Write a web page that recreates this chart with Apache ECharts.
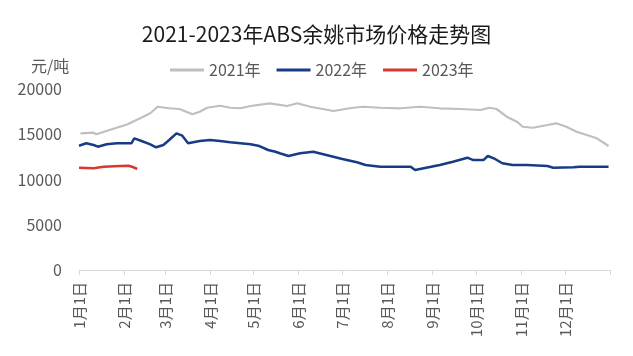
<!DOCTYPE html>
<html>
<head>
<meta charset="utf-8">
<script src="https://cdn.jsdelivr.net/npm/echarts@6/dist/echarts.min.js"></script>
<style>html,body{margin:0;padding:0;background:#fff;}#c{width:633px;height:356px;}</style>
</head>
<body>
<div id="c"></div>
<script>
// Day-of-year positions of month starts (tick positions) and their labels
const monthStarts = [0, 31, 59, 90, 120, 151, 181, 212, 243, 273, 304, 334, 365];
const monthLabels = ['1月1日','2月1日','3月1日','4月1日','5月1日','6月1日','7月1日','8月1日','9月1日','10月1日','11月1日','12月1日'];
const yTicks = [0, 5000, 10000, 15000, 20000];

// 2021 (day of year, price)
const days2021 = [1, 10, 12, 21, 33, 42, 49, 54, 62, 69, 78, 83, 88, 97, 104, 111, 118, 131, 143, 150, 159, 175, 186, 195, 207, 221, 234, 248, 262, 276, 282, 287, 294, 301, 305, 312, 322, 328, 335, 342, 349, 356, 364];
const values2021 = [15100, 15170, 15000, 15470, 16080, 16760, 17320, 18040, 17870, 17790, 17200, 17490, 17930, 18150, 17930, 17870, 18120, 18420, 18120, 18420, 18040, 17570, 17870, 18040, 17930, 17870, 18040, 17870, 17790, 17680, 17930, 17790, 16940, 16390, 15830, 15720, 16020, 16210, 15830, 15280, 14920, 14550, 13700];

// 2022
const days2022 = [0, 5, 10, 13, 19, 26, 36, 38, 43, 49, 53, 58, 62, 67, 71, 75, 83, 90, 97, 104, 118, 124, 130, 135, 138, 144, 152, 161, 170, 181, 191, 197, 207, 228, 231, 248, 257, 267, 271, 278, 281, 286, 291, 298, 308, 322, 326, 340, 344, 364];
const values2022 = [13735, 14000, 13810, 13625, 13890, 14000, 14000, 14550, 14255, 13890, 13560, 13810, 14365, 15105, 14840, 14000, 14255, 14365, 14255, 14110, 13890, 13700, 13260, 13070, 12900, 12600, 12900, 13070, 12710, 12270, 11900, 11600, 11415, 11415, 11050, 11600, 11970, 12410, 12150, 12150, 12600, 12270, 11790, 11600, 11600, 11490, 11300, 11350, 11415, 11415];

// 2023
const days2023 = [0, 10, 17, 28, 34, 37, 40];
const values2023 = [11300, 11240, 11415, 11490, 11525, 11380, 11160];

const zip = (d, v) => d.map((x, i) => [x, v[i]]);
const font = '"Noto Sans CJK SC", "Noto Sans", sans-serif';

const chart = echarts.init(document.getElementById('c'), null, {renderer: 'canvas'});
chart.setOption({
  animation: false,
  backgroundColor: '#ffffff',
  textStyle: {fontFamily: font},
  title: {
    text: '2021-2023年ABS余姚市场价格走势图',
    left: 'center',
    top: 19,
    textStyle: {fontSize: 21, fontWeight: 'normal', color: '#1a1a1a', fontFamily: font}
  },
  legend: {
    left: 165,
    top: 57,
    icon: 'rect',
    itemWidth: 34,
    itemHeight: 3,
    itemGap: 16,
    textStyle: {fontSize: 16, color: '#595959', fontFamily: font},
    data: ['2021年', '2022年', '2023年']
  },
  graphic: [{
    type: 'text',
    left: 31,
    top: 58,
    style: {text: '元/吨', fontSize: 16, fill: '#595959', fontFamily: font}
  }],
  grid: {left: 79, right: 23, top: 89, bottom: 86},
  xAxis: {
    type: 'value',
    min: 0,
    max: 365,
    axisLine: {show: true, lineStyle: {color: '#D9D9D9', width: 1}},
    axisTick: {show: true, length: 5, lineStyle: {color: '#D9D9D9'}, customValues: monthStarts},
    splitLine: {show: false},
    axisLabel: {
      customValues: monthStarts.slice(0, 12),
      rotate: 90,
      margin: 12,
      fontSize: 15,
      color: '#595959',
      fontFamily: font,
      formatter: function (v) {
        const i = monthStarts.indexOf(v);
        return i >= 0 && i < monthLabels.length ? monthLabels[i] : '';
      }
    }
  },
  yAxis: {
    type: 'value',
    min: yTicks[0],
    max: yTicks[yTicks.length - 1],
    interval: 5000,
    axisLine: {show: false},
    axisTick: {show: false},
    splitLine: {show: false},
    axisLabel: {fontSize: 16, color: '#595959', margin: 17, fontFamily: font, formatter: function (v) { return String(v); }}
  },
  series: [
    {name: '2021年', type: 'line', data: zip(days2021, values2021), symbol: 'none', lineStyle: {color: '#BFBFBF', width: 2.2}, itemStyle: {color: '#BFBFBF'}},
    {name: '2022年', type: 'line', data: zip(days2022, values2022), symbol: 'none', lineStyle: {color: '#173C85', width: 2.5}, itemStyle: {color: '#173C85'}},
    {name: '2023年', type: 'line', data: zip(days2023, values2023), symbol: 'none', lineStyle: {color: '#D6392E', width: 2.5}, itemStyle: {color: '#D6392E'}}
  ]
});
</script>
</body>
</html>
